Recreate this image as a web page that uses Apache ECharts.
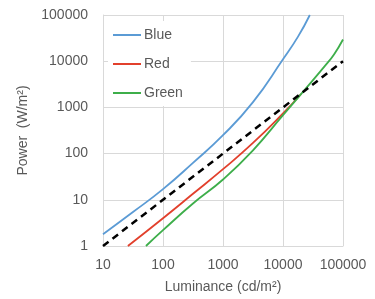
<!DOCTYPE html>
<html>
<head>
<meta charset="utf-8">
<script src="https://cdn.jsdelivr.net/npm/echarts@6/dist/echarts.min.js"></script>
<style>
  html, body { margin: 0; padding: 0; background: #fff; }
  #chart { width: 375px; height: 299px; }
</style>
</head>
<body>
<div id="chart"></div>
<script>
// [luminance cd/m², power W/m²]
var blueData = [[10, 1.8], [32, 5.5], [100, 17], [316, 63], [1000, 250], [3160, 1300],
    [10000, 11000], [17800, 34000], [28000, 100000]];
var redData = [[26, 1], [100, 4], [316, 13.5], [1000, 46], [3160, 170], [10000, 740], [20000, 1950]];
var greenData = [[52, 1], [100, 2.2], [316, 8.3], [1000, 27.5], [3160, 118], [10000, 680],
    [22400, 2300], [50000, 7900], [70800, 14000], [100000, 29500]];
var refData = [[10, 1], [100000, 10000]];

var xTicks = [10, 100, 1000, 10000, 100000];
var yTicks = [1, 10, 100, 1000, 10000, 100000];

var font = 'Liberation Sans, Arial, sans-serif';
var textColor = '#595959';
var gridColor = '#d9d9d9';

var chart = echarts.init(document.getElementById('chart'));

function line(name, data, color) {
    return {
        name: name,
        type: 'line',
        data: data,
        smooth: 0.5,
        symbol: 'none',
        lineStyle: { color: color, width: 1.8 },
        itemStyle: { color: color },
        z: 3
    };
}

function plain(v) { return String(Math.round(v)); }

chart.setOption({
    animation: false,
    backgroundColor: '#fff',
    grid: { left: 103, right: 32, top: 15, bottom: 52, containLabel: false },
    legend: {
        orient: 'vertical',
        left: 108,
        top: 21,
        padding: [7, 8, 6, 5],
        backgroundColor: '#fff',
        itemWidth: 28,
        itemHeight: 2,
        itemGap: 15,
        icon: 'rect',
        data: ['Blue', 'Red', 'Green'],
        textStyle: { fontFamily: font, fontSize: 14, color: textColor, padding: [0, 0, 0, -2] }
    },
    xAxis: {
        type: 'log',
        logBase: 10,
        min: xTicks[0],
        max: xTicks[xTicks.length - 1],
        name: 'Luminance (cd/m²)',
        nameLocation: 'middle',
        nameGap: 34,
        nameTextStyle: { fontFamily: font, fontSize: 14, color: textColor },
        axisLine: { lineStyle: { color: gridColor } },
        axisTick: { show: false },
        axisLabel: { fontFamily: font, fontSize: 14, color: textColor, margin: 12, formatter: plain },
        splitLine: { show: true, lineStyle: { color: gridColor } }
    },
    yAxis: {
        type: 'log',
        logBase: 10,
        min: yTicks[0],
        max: yTicks[yTicks.length - 1],
        name: 'Power  (W/m²)',
        nameLocation: 'middle',
        nameGap: 69,
        nameTextStyle: { fontFamily: font, fontSize: 14, color: textColor },
        axisLine: { show: true, lineStyle: { color: gridColor } },
        axisTick: { show: false },
        axisLabel: { fontFamily: font, fontSize: 14, color: textColor, margin: 15, formatter: plain },
        splitLine: { show: true, lineStyle: { color: gridColor } }
    },
    series: [
        line('Blue', blueData, '#5b9bd5'),
        line('Red', redData, '#e2402c'),
        line('Green', greenData, '#3dae4a'),
        {
            name: 'ref',
            type: 'line',
            data: refData,
            symbol: 'none',
            lineStyle: { color: '#000', width: 2.5, type: [7, 5] },
            z: 4
        }
    ]
});
</script>
</body>
</html>
